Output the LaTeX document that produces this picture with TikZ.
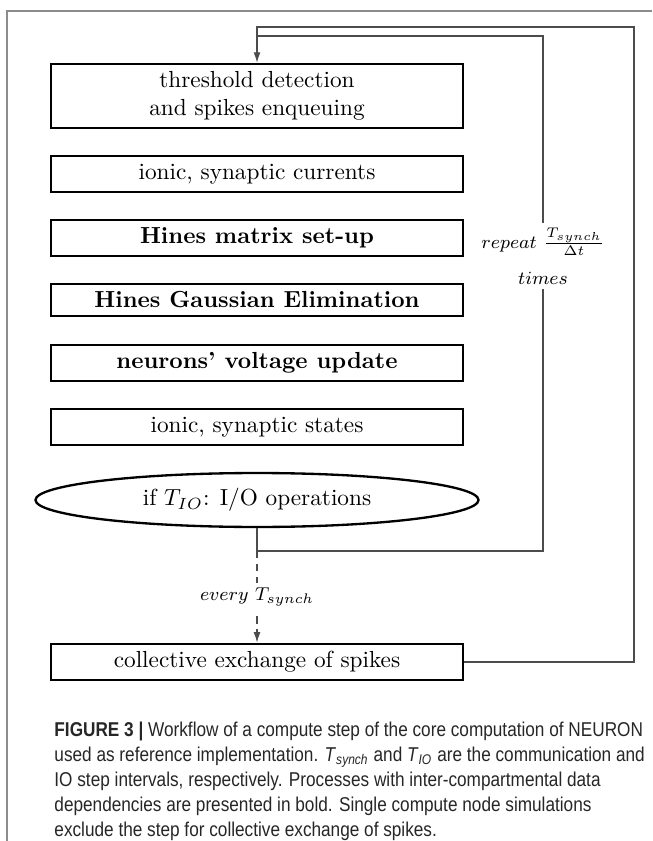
\documentclass[tikz,border=0pt]{standalone}
\usepackage{amsmath}
\usepackage{fontspec}
\newfontfamily\capfont[FakeStretch=0.86]{Liberation Sans}
\usetikzlibrary{positioning,shapes.geometric,arrows.meta}

\begin{document}
\begin{tikzpicture}[x=0.43pt, y=-0.43pt,
  stepbox/.style={draw, line width=1pt, minimum width=177.2pt, inner xsep=3pt, inner ysep=3.3pt, align=center},
  iobox/.style={draw, ellipse, line width=1pt, minimum width=190.5pt, minimum height=23.2pt, inner sep=0pt},
  loopline/.style={draw=black!70, line width=0.5pt},
  tip/.style={-{Latex[length=4.5pt,width=3pt]}},
  lbl/.style={fill=white, font=\footnotesize, inner sep=2pt},
  capnote/.style={anchor=north west, inner sep=0pt, align=left, text=black!85,
    font=\capfont\fontsize{8.6}{10.75}\selectfont}]
\useasboundingbox (0,0) rectangle (652,841);
\draw[black!45, line width=0.7pt] (652,11) -- (7,11) -- (7,841);

\node[stepbox] (thresh) at (257,96) {threshold detection\\and spikes enqueuing};
\node[stepbox] (curr) at (257,174) {ionic, synaptic currents};
\node[stepbox] (matrix) at (257,238) {\textbf{Hines matrix set-up}};
\node[stepbox] (gauss) at (257,300) {\textbf{Hines Gaussian Elimination}};
\node[stepbox] (volt) at (257,363) {\textbf{neurons' voltage update}};
\node[stepbox] (states) at (257,427) {ionic, synaptic states};
\node[iobox] (io) at (257,500) {if $T_{IO}$: I/O operations};
\node[stepbox] (exch) at (257,662) {collective exchange of spikes};

\coordinate (outer) at (634,27);
\coordinate (inner) at (543,36);
\coordinate (split) at (257,551);

% outer loop, every T_synch
\draw[loopline,tip] (exch.east) -| (outer) -| (thresh.north);
% inner loop over the steps
\draw[loopline] (io.south) -- (split) -| (inner) -- (inner -| thresh.north);
\node[lbl, align=center] (rep) at (543,256) {$repeat$ $\frac{T_{synch}}{\Delta t}$\\[6pt]$times$};
\draw[loopline,tip,dash pattern=on 3.2pt off 2.4pt] (split) -- node[lbl] (every) {$every$ $T_{synch}$} (exch.north);

\node[capnote] (caption) at (54,722) {\textbf{FIGURE 3 |} Workflow of a compute step of the core computation of NEURON\\
used as reference implementation. \textit{T}\textsubscript{\textit{synch}} and \textit{T}\textsubscript{\textit{IO}} are the communication and\\
IO step intervals, respectively. Processes with inter-compartmental data\\
dependencies are presented in bold. Single compute node simulations\\
exclude the step for collective exchange of spikes.};
\end{tikzpicture}
\end{document}
